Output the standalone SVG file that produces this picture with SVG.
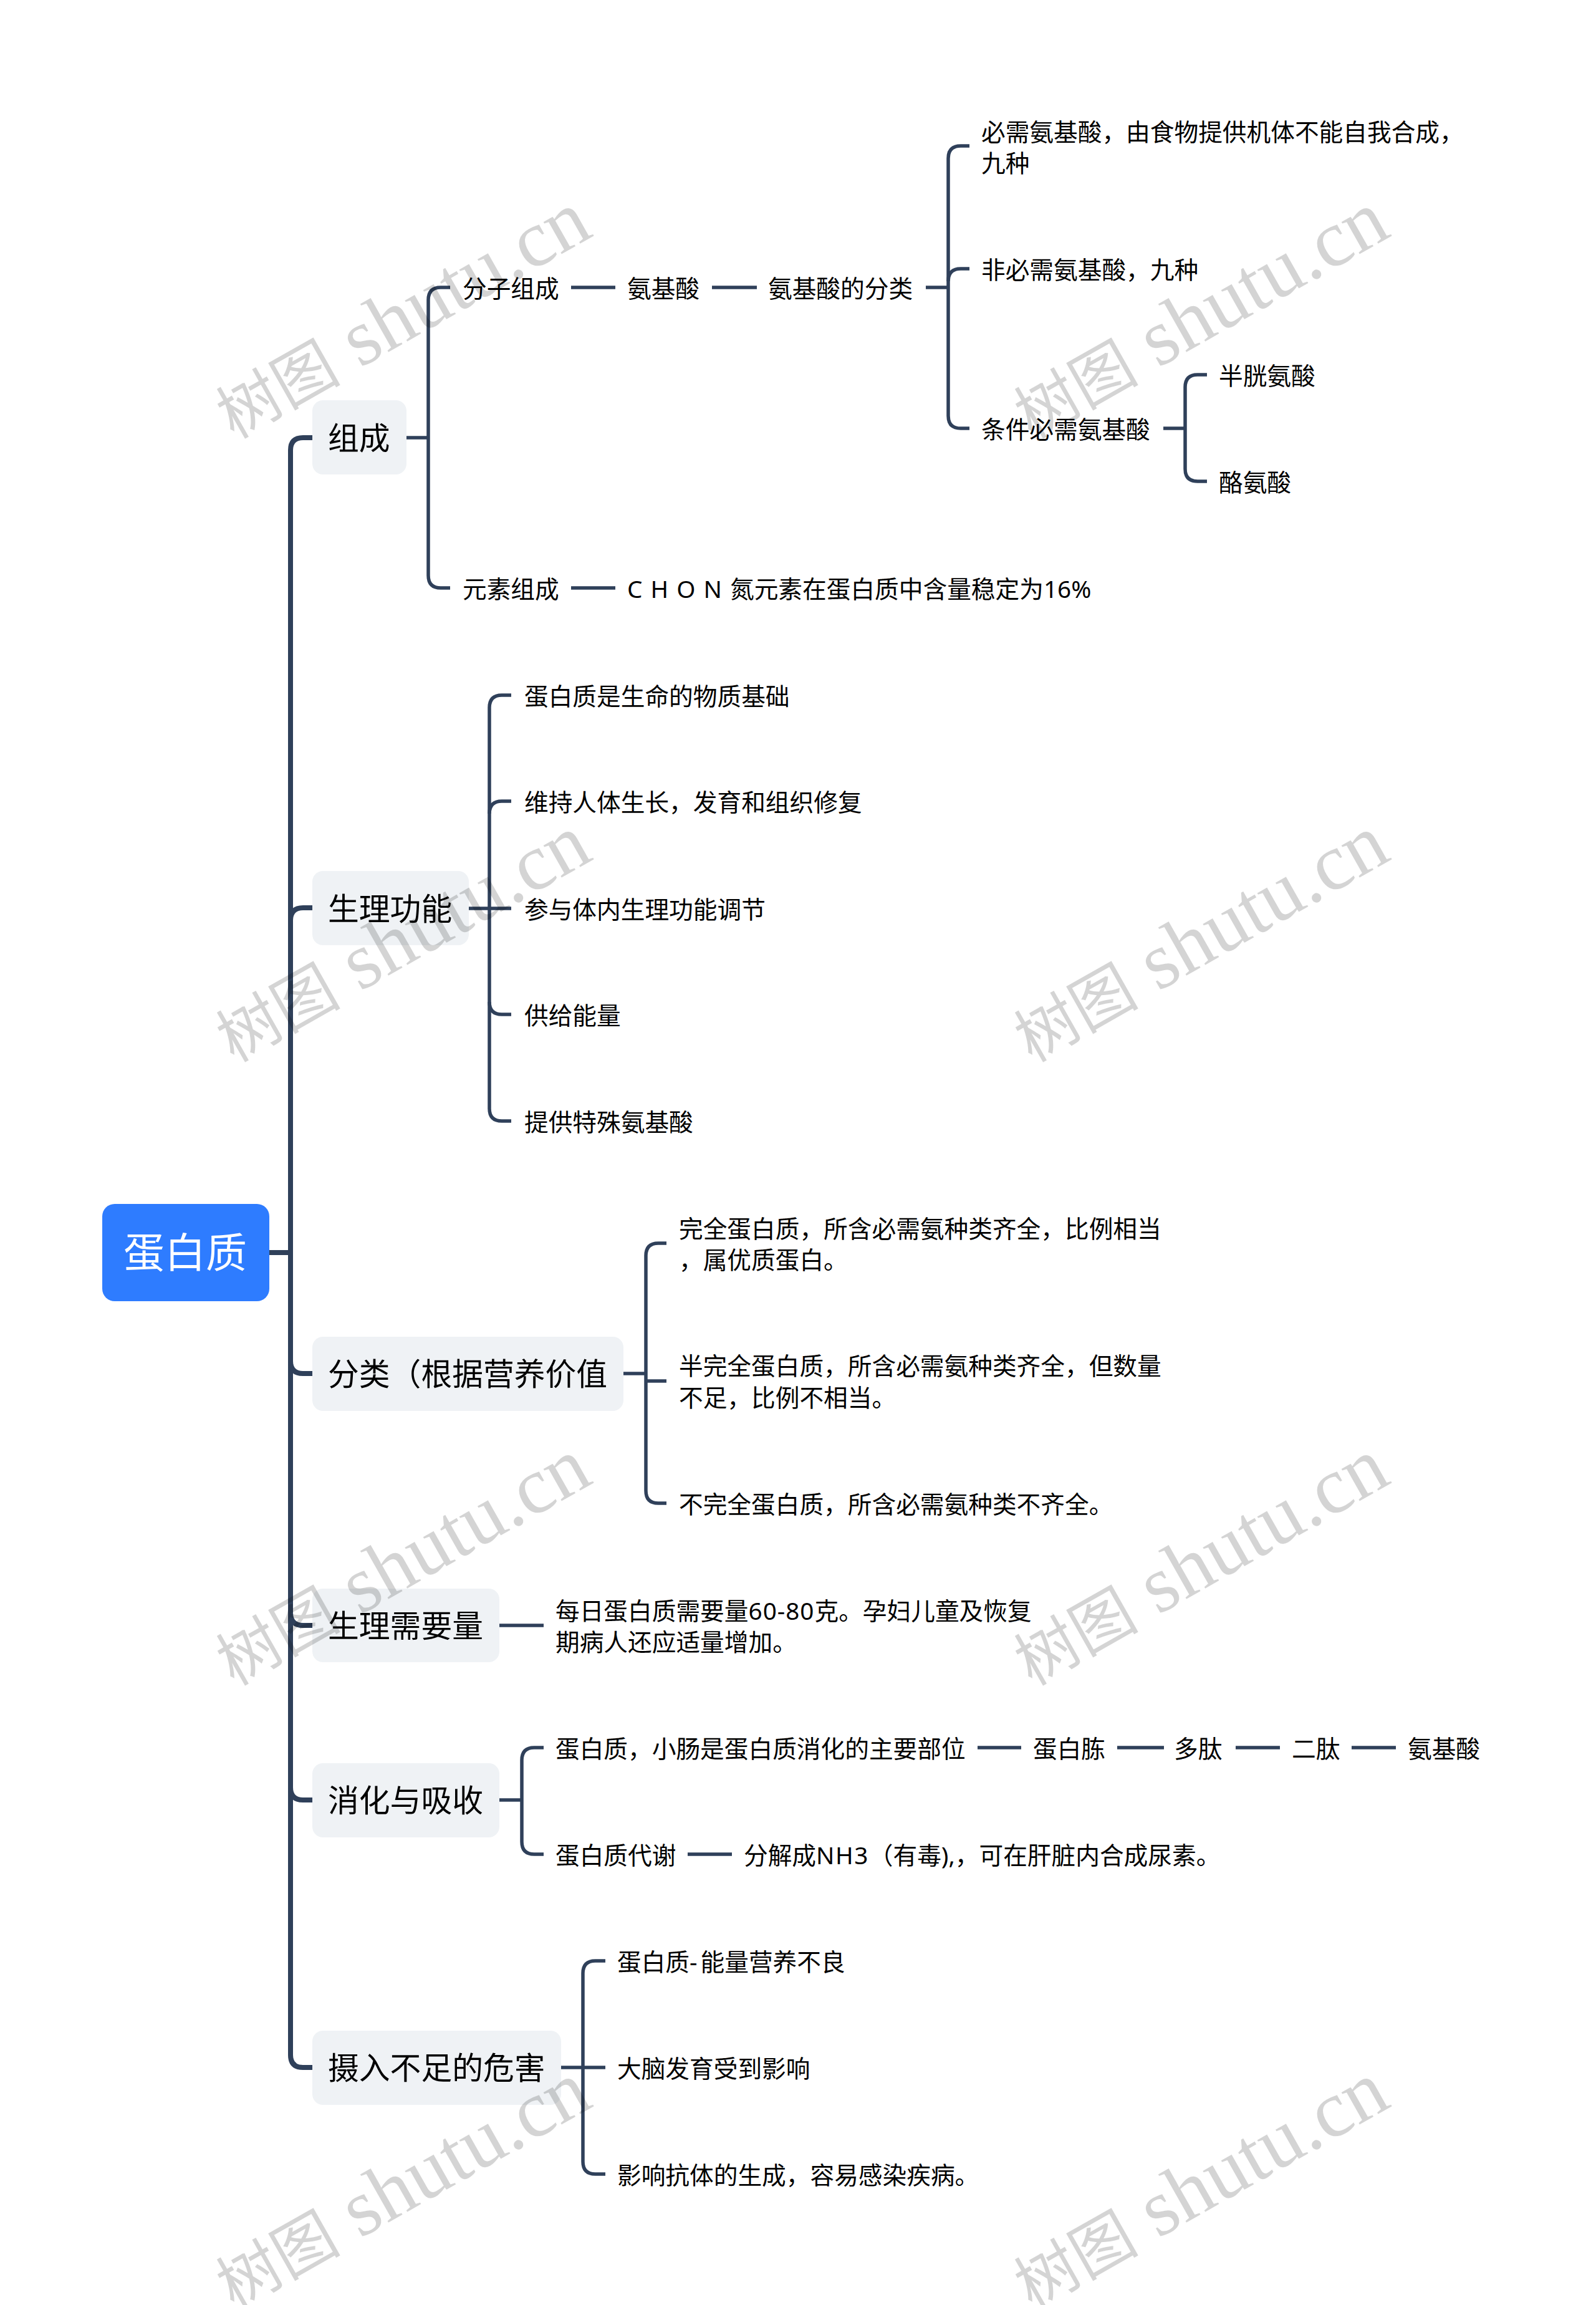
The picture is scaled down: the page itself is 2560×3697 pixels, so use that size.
<svg xmlns="http://www.w3.org/2000/svg" width="2560" height="3697" viewBox="0 0 2560 3697">
<defs>
<style>
text{font-family:"Noto Sans","Noto Sans CJK SC",sans-serif;fill:#000}
.t{font-size:38.7px}
.m{font-size:49.8px}
.r{font-size:66px;fill:#fff}
.b{fill:#eff2f5}
.c1{fill:none;stroke:#2f405a;stroke-width:8}
.c2{fill:none;stroke:#2f405a;stroke-width:5.5}
.wm{font-family:"Liberation Serif","Noto Sans CJK SC",serif;font-size:129px;fill:#000;fill-opacity:.17}
.wc{font-family:"Noto Sans CJK SC",serif;font-size:100px}
</style>
<g id="wmark"><text class="wm" transform="rotate(-29.5)"><tspan class="wc">树图</tspan> shutu.cn</text></g>
</defs>
<rect width="2560" height="3697" fill="#fff"/>
<g id="connectors">
<path class="c1" d="M432 2009H466"/>
<path class="c1" d="M501 702H486Q466 702 466 722V3296Q466 3316 486 3316H501"/>
<path class="c1" d="M466 1476Q466 1456 486 1456H501"/>
<path class="c1" d="M466 2183Q466 2203 486 2203H501"/>
<path class="c1" d="M466 2587Q466 2607 486 2607H501"/>
<path class="c1" d="M466 2867Q466 2887 486 2887H501"/>
<path class="c2" d="M652 702H687"/>
<path class="c2" d="M722 461H707Q687 461 687 481V923Q687 943 707 943H722"/>
<path class="c2" d="M916 461H987M1142 461H1214M1485 461H1521M916 943H987"/>
<path class="c2" d="M1555 234H1541Q1521 234 1521 254V667Q1521 687 1541 687H1555"/>
<path class="c2" d="M1521 451Q1521 431 1541 431H1555"/>
<path class="c2" d="M1866 687H1901"/>
<path class="c2" d="M1936 601H1921Q1901 601 1901 621V752Q1901 772 1921 772H1936"/>
<path class="c2" d="M752 1457H820"/>
<path class="c2" d="M820 1115H805Q785 1115 785 1135V1778Q785 1798 805 1798H820"/>
<path class="c2" d="M785 1305Q785 1285 805 1285H820"/>
<path class="c2" d="M785 1607Q785 1627 805 1627H820"/>
<path class="c2" d="M999 2203H1036"/>
<path class="c2" d="M1069 1994H1056Q1036 1994 1036 2014V2391Q1036 2411 1056 2411H1069"/>
<path class="c2" d="M1036 2215H1069"/>
<path class="c2" d="M800 2607H872"/>
<path class="c2" d="M800 2887H837"/>
<path class="c2" d="M872 2803H857Q837 2803 837 2823V2954Q837 2974 857 2974H872"/>
<path class="c2" d="M1568 2803H1638M1792 2803H1867M1982 2803H2053M2168 2803H2239M1103 2974H1174"/>
<path class="c2" d="M900 3316H971"/>
<path class="c2" d="M971 3145H955Q935 3145 935 3165V3467Q935 3487 955 3487H971"/>
</g>
<g id="root"><rect x="164" y="1931" width="268" height="156" rx="20" fill="#2e7cff"/><text class="r" x="198" y="2033">蛋白质</text></g>
<g id="n-zucheng"><rect class="b" x="501" y="642" width="151" height="119" rx="17"/><text class="m" x="526" y="721">组成</text></g>
<g id="n-shengli"><rect class="b" x="501" y="1397" width="251" height="119" rx="17"/><text class="m" x="526" y="1476">生理功能</text></g>
<g id="n-fenlei"><rect class="b" x="501" y="2144" width="499" height="119" rx="17"/><text class="m" x="526" y="2222">分类（根据营养价值</text></g>
<g id="n-xuyao"><rect class="b" x="501" y="2548" width="300" height="118" rx="17"/><text class="m" x="526" y="2626">生理需要量</text></g>
<g id="n-xiaohua"><rect class="b" x="501" y="2828" width="300" height="119" rx="17"/><text class="m" x="526" y="2906">消化与吸收</text></g>
<g id="n-sheru"><rect class="b" x="501" y="3257" width="399" height="119" rx="17"/><text class="m" x="526" y="3335">摄入不足的危害</text></g>
<g id="n-fenzi"><text class="t" x="742" y="477">分子组成</text></g>
<g id="n-anjisuan"><text class="t" x="1006" y="477">氨基酸</text></g>
<g id="n-fenleib"><text class="t" x="1232" y="477">氨基酸的分类</text></g>
<g id="n-bixu"><text class="t" x="1574" y="226">必需氨基酸，由食物提供机体不能自我合成，</text><text class="t" x="1574" y="276">九种</text></g>
<g id="n-feibixu"><text class="t" x="1574" y="447">非必需氨基酸，九种</text></g>
<g id="n-tiaojian"><text class="t" x="1574" y="703">条件必需氨基酸</text></g>
<g id="n-banguang"><text class="t" x="1955" y="617">半胱氨酸</text></g>
<g id="n-lao"><text class="t" x="1955" y="788">酪氨酸</text></g>
<g id="n-yuansu"><text class="t" x="742" y="959">元素组成</text></g>
<g id="n-chon"><text class="t" x="1006" y="959" word-spacing="3">C H O N 氮元素在蛋白质中含量稳定为16%</text></g>
<g id="n-g1"><text class="t" x="841" y="1131">蛋白质是生命的物质基础</text></g>
<g id="n-g2"><text class="t" x="841" y="1301">维持人体生长，发育和组织修复</text></g>
<g id="n-g3"><text class="t" x="841" y="1473">参与体内生理功能调节</text></g>
<g id="n-g4"><text class="t" x="841" y="1643">供给能量</text></g>
<g id="n-g5"><text class="t" x="841" y="1814">提供特殊氨基酸</text></g>
<g id="n-f1"><text class="t" x="1089" y="1985">完全蛋白质，所含必需氨种类齐全，比例相当</text><text class="t" x="1089" y="2035">，属优质蛋白。</text></g>
<g id="n-f2"><text class="t" x="1089" y="2205">半完全蛋白质，所含必需氨种类齐全，但数量</text><text class="t" x="1089" y="2256">不足，比例不相当。</text></g>
<g id="n-f3"><text class="t" x="1089" y="2427">不完全蛋白质，所含必需氨种类不齐全。</text></g>
<g id="n-x1"><text class="t" x="891" y="2598">每日蛋白质需要量<tspan letter-spacing="1">60-80</tspan>克。孕妇儿童及恢复</text><text class="t" x="891" y="2648">期病人还应适量增加。</text></g>
<g id="n-h1"><text class="t" x="891" y="2819">蛋白质，小肠是蛋白质消化的主要部位</text></g>
<g id="n-h2"><text class="t" x="1657" y="2819">蛋白胨</text></g>
<g id="n-h3"><text class="t" x="1883" y="2819">多肽</text></g>
<g id="n-h4"><text class="t" x="2072" y="2819">二肽</text></g>
<g id="n-h5"><text class="t" x="2258" y="2819">氨基酸</text></g>
<g id="n-h6"><text class="t" x="891" y="2990">蛋白质代谢</text></g>
<g id="n-h7"><text class="t" x="1193" y="2990">分解成<tspan letter-spacing="1.5">NH3</tspan>（有毒),，可在肝脏内合成尿素。</text></g>
<g id="n-s1"><text class="t" x="990" y="3161">蛋白质<tspan letter-spacing="5">-</tspan>能量营养不良</text></g>
<g id="n-s2"><text class="t" x="990" y="3332">大脑发育受到影响</text></g>
<g id="n-s3"><text class="t" x="990" y="3503">影响抗体的生成，容易感染疾病。</text></g>
<g id="watermarks">
<use href="#wmark" transform="translate(375 705)"/>
<use href="#wmark" transform="translate(1655 705)"/>
<use href="#wmark" transform="translate(375 1705)"/>
<use href="#wmark" transform="translate(1655 1705)"/>
<use href="#wmark" transform="translate(375 2705)"/>
<use href="#wmark" transform="translate(1655 2705)"/>
<use href="#wmark" transform="translate(375 3705)"/>
<use href="#wmark" transform="translate(1655 3705)"/>
</g>
</svg>
